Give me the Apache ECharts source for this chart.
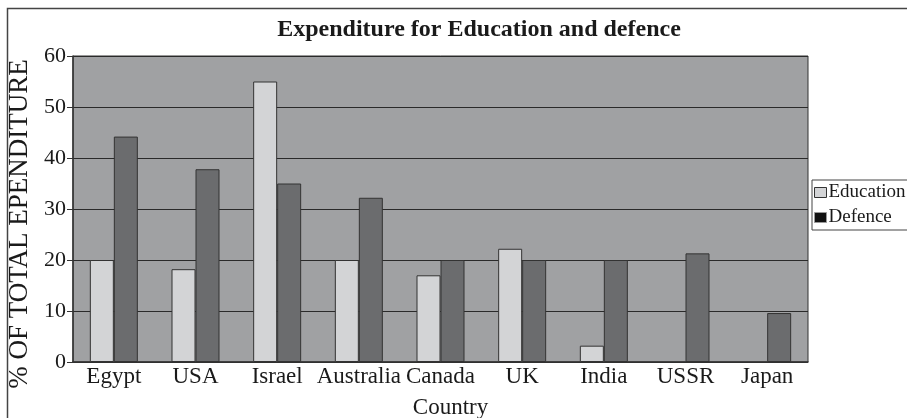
<!DOCTYPE html>
<html>
<head>
<meta charset="utf-8">
<script src="https://cdn.jsdelivr.net/npm/echarts@6/dist/echarts.min.js"></script>
<style>
  html, body { margin: 0; padding: 0; background: #fff; }
  #chart { width: 907px; height: 418px; }
</style>
</head>
<body>
<div id="chart"></div>
<script>
var countries = ['Egypt', 'USA', 'Israel', 'Australia', 'Canada', 'UK', 'India', 'USSR', 'Japan'];
var education = [20, 18.2, 55, 20, 17, 22.2, 3.2, null, null];
var defence = [44.2, 37.8, 35, 32.2, 20, 20, 20, 21.3, 9.6];
var yTicks = [0, 10, 20, 30, 40, 50, 60];

var serif = '"Liberation Serif", "DejaVu Serif", serif';

var chart = echarts.init(document.getElementById('chart'));
chart.setOption({
  animation: false,
  backgroundColor: '#fff',
  textStyle: { fontFamily: serif },
  title: {
    text: 'Expenditure for Education and defence',
    left: 474,
    textAlign: 'center',
    top: 13,
    textStyle: { fontFamily: serif, fontWeight: 'bold', fontSize: 24, color: '#1a1a1a' }
  },
  legend: {
    orient: 'vertical',
    left: 812,
    top: 180,
    padding: [3, 10, 3, 2],
    itemGap: 6,
    itemWidth: 12,
    itemHeight: 10,
    icon: 'rect',
    borderColor: '#444',
    borderWidth: 1,
    textStyle: { fontFamily: serif, fontSize: 19, color: '#1a1a1a', padding: [0, 0, 0, -3] },
    data: [
      { name: 'Education', itemStyle: { color: '#d3d4d6', borderColor: '#333', borderWidth: 1 } },
      { name: 'Defence', itemStyle: { color: '#111', borderColor: '#999', borderWidth: 1 } }
    ]
  },
  grid: {
    left: 73,
    right: 99,
    top: 56,
    bottom: 56,
    outerBoundsMode: 'none',
    containLabel: false,
    show: true,
    backgroundColor: '#a0a1a3',
    borderColor: '#333',
    borderWidth: 1
  },
  xAxis: {
    type: 'category',
    data: countries,
    name: 'Country',
    nameLocation: 'middle',
    nameGap: 34,
    nameTextStyle: { fontFamily: serif, fontSize: 23, color: '#1a1a1a', padding: [0, 0, 0, 20] },
    axisLine: { lineStyle: { color: '#333', width: 1.5 } },
    axisTick: { show: false },
    axisLabel: { interval: 0, fontFamily: serif, fontSize: 23, color: '#1a1a1a', margin: 3 }
  },
  yAxis: {
    type: 'value',
    min: yTicks[0],
    max: yTicks[yTicks.length - 1],
    interval: 10,
    name: '% OF TOTAL EPENDITURE',
    nameLocation: 'middle',
    nameGap: 30,
    nameTextStyle: { fontFamily: serif, fontSize: 27, color: '#1a1a1a', padding: [0, 30, 0, 0] },
    axisLine: { show: true, lineStyle: { color: '#333', width: 1.5 } },
    axisTick: { show: true, length: 6, lineStyle: { color: '#333' } },
    axisLabel: { fontFamily: serif, fontSize: 22, color: '#1a1a1a', margin: 7 },
    splitLine: { show: true, lineStyle: { color: '#2a2a2a', width: 1.2 } }
  },
  series: [
    {
      name: 'Education',
      type: 'bar',
      data: education,
      barWidth: 24,
      barGap: '0%',
      itemStyle: { color: '#d3d4d6', borderColor: '#333', borderWidth: 1 }
    },
    {
      name: 'Defence',
      type: 'bar',
      data: defence,
      barWidth: 24,
      itemStyle: { color: '#6b6c6e', borderColor: '#333', borderWidth: 1 }
    }
  ],
  graphic: [
    {
      type: 'rect',
      shape: { x: 7.5, y: 8.5, width: 920, height: 430 },
      style: { fill: 'none', stroke: '#444', lineWidth: 1.5 },
      silent: true
    }
  ]
});
</script>
</body>
</html>
